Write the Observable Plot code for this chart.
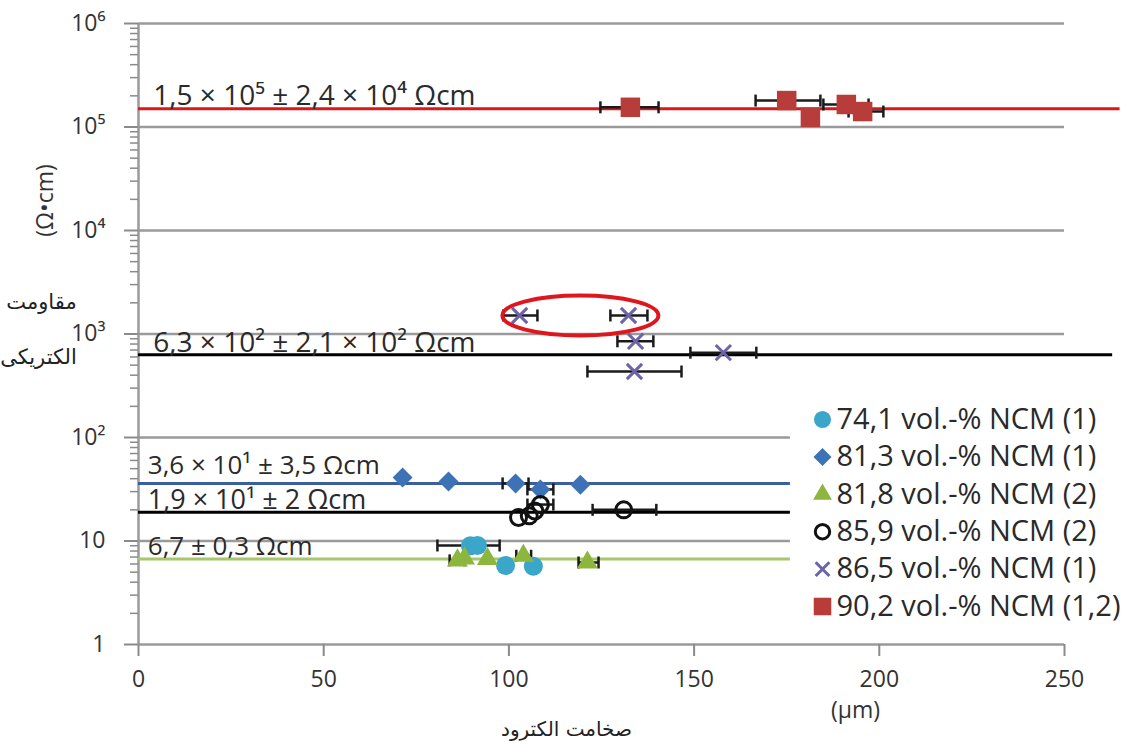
<!DOCTYPE html>
<html>
<head>
<meta charset="utf-8">
<script src="https://cdn.jsdelivr.net/npm/d3@7"></script>
<script src="https://cdn.jsdelivr.net/npm/@observablehq/plot@0.6"></script>
<style>
  html, body { margin: 0; padding: 0; background: #fff; }
  #chart { width: 1134px; height: 742px; }
</style>
</head>
<body>
<div id="chart"></div>
<script>
// ---------- Data ----------
const xTicks = [0, 50, 100, 150, 200, 250];
const yTicks = [1, 10, 100, 1e3, 1e4, 1e5, 1e6];
const yTickLabels = ["1", "10", "10²", "10³", "10⁴", "10⁵", "10⁶"];

const gridValues = [10, 100, 1e3, 1e4, 1e5, 1e6];
const gridEnds   = [176, 176, 250, 250, 250, 250];

// Fit lines (mean resistivity per group)
const fitValues = [1.5e5, 630, 36, 19, 6.7];
const fitEnds   = [265, 263, 176, 176, 176];
const fitColors = ["#d7191c", "#000000", "#3a5f9c", "#000000", "#a8c66c"];
const fitLabels = [
  "1,5 × 10⁵ ± 2,4 × 10⁴ Ωcm",
  "6,3 × 10² ± 2,1 × 10² Ωcm",
  "3,6 × 10¹ ± 3,5 Ωcm",
  "1,9 × 10¹ ± 2 Ωcm",
  "6,7 ± 0,3 Ωcm"
];
const fitLabelX = [4, 4, 2.5, 2.5, 2.5];
const fitLabelDy = [-13, -12, -18, -12, -12];
const fitLabelSize = [28, 28, 26, 27, 26];

// Series: 74,1 vol.-% NCM (1)
const s741X  = [89.6, 91.5, 99.1, 106.6];
const s741Y  = [9.0, 9.05, 5.8, 5.7];
const s741Lo = [null, 80.7, null, null];
const s741Hi = [null, 97.5, null, null];

// Series: 81,3 vol.-% NCM (1)
const s813X  = [71.3, 83.7, 101.8, 108.5, 119.3];
const s813Y  = [41, 37.6, 36, 31.5, 35];
const s813Lo = [null, null, 98.3, 105, null];
const s813Hi = [null, null, 105.3, 112, null];

// Series: 81,8 vol.-% NCM (2)
const s818X  = [86.1, 88, 94.2, 103.9, 121.2];
const s818Y  = [6.5, 6.8, 6.7, 7.2, 6.2];
const s818Lo = [84, null, null, 102, 118.8];
const s818Hi = [88, null, null, 106, 124.2];

// Series: 85,9 vol.-% NCM (2)
const s859X  = [102.6, 105.5, 107.0, 108.5, 131];
const s859Y  = [16.9, 17.5, 19.5, 22.5, 20];
const s859Lo = [null, null, null, 105, 122.6];
const s859Hi = [null, null, null, 112, 139.8];

// Series: 86,5 vol.-% NCM (1)
const s865X  = [102.9, 132.3, 134.2, 157.9, 133.9];
const s865Y  = [1510, 1510, 850, 660, 434];
const s865Lo = [98.5, 127.4, 129.3, 149, 121.2];
const s865Hi = [107.7, 137.4, 139, 166.8, 146.6];

// Series: 90,2 vol.-% NCM (1,2)
const s902X  = [132.8, 175, 181.4, 191.1, 195.5];
const s902Y  = [1.55e5, 1.8e5, 1.24e5, 1.65e5, 1.41e5];
const s902Lo = [124.7, 166.6, null, 184.9, 191.7];
const s902Hi = [140.4, 184.1, null, 197.1, 201.1];

// Highlight ellipse centre
const highlightX = [119.3];
const highlightY = [1510];

const seriesNames = [
  "74,1 vol.-% NCM (1)",
  "81,3 vol.-% NCM (1)",
  "81,8 vol.-% NCM (2)",
  "85,9 vol.-% NCM (2)",
  "86,5 vol.-% NCM (1)",
  "90,2 vol.-% NCM (1,2)"
];

// ---------- Build tables ----------
const seriesData = [
  [s741X, s741Y, s741Lo, s741Hi],
  [s813X, s813Y, s813Lo, s813Hi],
  [s818X, s818Y, s818Lo, s818Hi],
  [s859X, s859Y, s859Lo, s859Hi],
  [s865X, s865Y, s865Lo, s865Hi],
  [s902X, s902Y, s902Lo, s902Hi]
];
const styles = [
  {symbol: "circle", r: 9.5, fill: "#3aa6c9", stroke: "none", strokeWidth: 0},
  {symbol: "diamond2", r: 9, fill: "#3e72b6", stroke: "none", strokeWidth: 0},
  {symbol: "triangle2", r: 10, fill: "#8db63f", stroke: "none", strokeWidth: 0},
  {symbol: "circle", r: 8, fill: "none", stroke: "#111", strokeWidth: 3},
  {symbol: "times", r: 7, fill: "none", stroke: "#6b64a6", strokeWidth: 3},
  {symbol: "square", r: 11, fill: "#b83d3a", stroke: "none", strokeWidth: 0}
];
const points = seriesData.map(([xs, ys, lo, hi]) =>
  xs.map((x, i) => ({x, y: ys[i], lo: lo[i], hi: hi[i]})));
const errData = points.flat().filter(d => d.lo != null);

const gridData = gridValues.map((v, i) => ({y: v, x1: 0, x2: gridEnds[i]}));
const fitData = fitValues.map((v, i) => ({y: v, x1: 0, x2: fitEnds[i], color: fitColors[i]}));
const minorTicks = [];
for (let e = 0; e < 6; e++) for (let k = 2; k <= 9; k++) minorTicks.push(k * Math.pow(10, e));

// ---------- Custom symbols ----------
const capSymbol = {draw(ctx) { ctx.moveTo(0, -6); ctx.lineTo(0, 6); }};
const ellipseSymbol = {draw(ctx) {
  const rx = 78, ry = 20, k = 0.5523;
  ctx.moveTo(rx, 0);
  ctx.bezierCurveTo(rx, ry * k, rx * k, ry, 0, ry);
  ctx.bezierCurveTo(-rx * k, ry, -rx, ry * k, -rx, 0);
  ctx.bezierCurveTo(-rx, -ry * k, -rx * k, -ry, 0, -ry);
  ctx.bezierCurveTo(rx * k, -ry, rx, -ry * k, rx, 0);
  ctx.closePath();
}};

const latin = "'Open Sans', Roboto, 'DejaVu Sans', sans-serif";
const persian = "'DejaVu Sans', sans-serif";
const centered = {textAnchor: "middle", lineAnchor: "middle"};

const marks = [
  // grid
  Plot.ruleY(gridData, {y: "y", x1: "x1", x2: "x2", stroke: "#9a9a9a", strokeWidth: 2.5}),
  Plot.ruleY([1], {stroke: "#9a9a9a", strokeWidth: 2.5}),
  Plot.ruleX([0], {stroke: "#9a9a9a", strokeWidth: 2.5}),
  // axes
  Plot.axisX({ticks: xTicks, tickSize: 12, tickPadding: 14, stroke: "#8a8a8a", strokeWidth: 2,
    fontSize: 23, fill: "#333", label: null, fontFamily: latin}),
  Plot.axisY({ticks: yTicks, tickFormat: d => yTickLabels[yTicks.indexOf(d)], tickSize: 14, tickPadding: 19,
    stroke: "#8a8a8a", strokeWidth: 2, fontSize: 23, fill: "#333", label: null, fontFamily: latin}),
  Plot.axisY({ticks: minorTicks, tickFormat: () => "", tickSize: 8, stroke: "#8a8a8a", strokeWidth: 1.5, label: null}),
  // fit lines
  Plot.ruleY(fitData, {y: "y", x1: "x1", x2: "x2", stroke: "color", strokeWidth: 3}),
  // error bars
  Plot.ruleY(errData, {y: "y", x1: "lo", x2: "hi", stroke: "#1a1a1a", strokeWidth: 2.5}),
  Plot.dot(errData, {x: "lo", y: "y", symbol: capSymbol, stroke: "#1a1a1a", strokeWidth: 2.5}),
  Plot.dot(errData, {x: "hi", y: "y", symbol: capSymbol, stroke: "#1a1a1a", strokeWidth: 2.5}),
  // markers
  ...points.map((pts, i) => Plot.dot(pts, {x: "x", y: "y", ...styles[i]})),
  // highlight ellipse
  Plot.dot(highlightX.map((x, i) => ({x, y: highlightY[i]})), {x: "x", y: "y", symbol: ellipseSymbol,
    stroke: "#e0161d", strokeWidth: 4, fill: "none"}),
  // fit labels
  ...fitLabels.map((t, i) => Plot.text([{t, x: fitLabelX[i], y: fitValues[i]}], {
    x: "x", y: "y", text: "t", textAnchor: "start", lineAnchor: "middle", dy: fitLabelDy[i],
    fontSize: fitLabelSize[i], fill: "#2a2a2a", fontFamily: latin})),
  // legend
  ...seriesNames.map((name, i) => Plot.dot([name], {frameAnchor: "top-left", dx: 684, dy: 396 + 37.4 * i,
    ...styles[i], r: styles[i].r * 0.9})),
  ...seriesNames.map((name, i) => Plot.text([name], {frameAnchor: "top-left", dx: 698, dy: 396 + 37.4 * i,
    text: d => d, textAnchor: "start", lineAnchor: "middle", fontSize: 29, fill: "#2a2a2a", fontFamily: latin})),
  // axis titles
  Plot.text(["(µm)"], {frameAnchor: "bottom-left", dx: 717, dy: 66, text: d => d, ...centered,
    fontSize: 23, fill: "#333", fontFamily: latin}),
  Plot.text(["صخامت الکترود"], {frameAnchor: "bottom-left", dx: 428, dy: 85, text: d => d, ...centered,
    fontSize: 20, fill: "#222", fontFamily: persian}),
  Plot.text(["(Ω•cm)"], {frameAnchor: "top-left", dx: -93, dy: 177, rotate: -90, text: d => d, ...centered,
    fontSize: 23, fill: "#333", fontFamily: latin}),
  Plot.text(["مقاومت"], {frameAnchor: "top-left", dx: -97, dy: 279, text: d => d, ...centered,
    fontSize: 21, fill: "#222", fontFamily: persian}),
  Plot.text(["الکتریکی"], {frameAnchor: "top-left", dx: -100, dy: 334, text: d => d, ...centered,
    fontSize: 21, fill: "#222", fontFamily: persian})
];

const chart = Plot.plot({
  width: 1134,
  height: 742,
  marginLeft: 138,
  marginRight: 70,
  marginTop: 23,
  marginBottom: 98,
  x: {domain: [0, 250]},
  y: {type: "log", domain: [1, 1e6]},
  style: {fontFamily: latin, background: "#fff", overflow: "visible"},
  marks
});
document.getElementById("chart").appendChild(chart);
</script>
</body>
</html>
